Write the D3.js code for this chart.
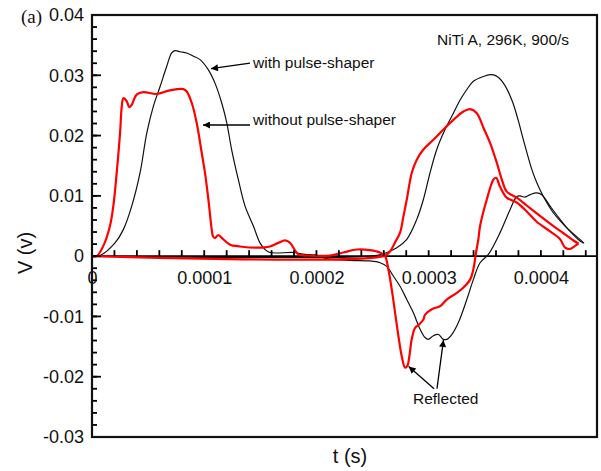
<!DOCTYPE html>
<html><head><meta charset="utf-8">
<script src="https://cdn.jsdelivr.net/npm/d3@7"></script>
<style>
body{margin:0;background:#fff;}
svg{display:block;font-family:"Liberation Sans",Arial,sans-serif;}
</style></head>
<body>
<svg id="c" width="601" height="471"></svg>
<script>
// ---- data (t in seconds, V in volts) ----
const xTicks = [0, 0.0001, 0.0002, 0.0003, 0.0004];
const yTicks = [-0.03, -0.02, -0.01, 0, 0.01, 0.02, 0.03, 0.04];
const xMinorTicks = [0, 2e-5, 4e-5, 6e-5, 8e-5, 1e-4, 1.2e-4, 1.4e-4, 1.6e-4, 1.8e-4, 2e-4, 2.2e-4, 2.4e-4,
  2.6e-4, 2.8e-4, 3e-4, 3.2e-4, 3.4e-4, 3.6e-4, 3.8e-4, 4e-4, 4.2e-4, 4.4e-4];
const yMinorTicks = [-0.03, -0.028, -0.026, -0.024, -0.022, -0.02, -0.018, -0.016, -0.014, -0.012, -0.01,
  -0.008, -0.006, -0.004, -0.002, 0, 0.002, 0.004, 0.006, 0.008, 0.01, 0.012, 0.014, 0.016, 0.018, 0.02,
  0.022, 0.024, 0.026, 0.028, 0.03, 0.032, 0.034, 0.036, 0.038, 0.04];

// with pulse-shaper: incident bar (incident + reflected)
const blackIncident = [
 [0,0],[7.1e-6,0.0001],[20.5e-6,0.0022],[27.9e-6,0.0044],[35.4e-6,0.0083],[42.8e-6,0.0138],
 [48.8e-6,0.0204],[54.6e-6,0.0248],[60.6e-6,0.0281],[66.6e-6,0.0315],[71.0e-6,0.0337],[74.0e-6,0.0341],
 [78.4e-6,0.0339],[84.4e-6,0.0337],[90.0e-6,0.0332],[96.3e-6,0.0326],[103.7e-6,0.0309],[109.6e-6,0.0287],
 [115.6e-6,0.0254],[120.1e-6,0.0221],[124.5e-6,0.0176],[130.4e-6,0.0127],[136.4e-6,0.0083],[143.8e-6,0.0050],
 [149.7e-6,0.0022],[154.2e-6,0.0011],[158.6e-6,0.0006],[179.4e-6,0.0006],[189.8e-6,0.0003],[198.8e-6,0.0002],
 [209.2e-6,-0.0004],[229.9e-6,-0.0007],[247.8e-6,-0.0008],[256.7e-6,-0.0011],[262.7e-6,-0.0017],[268.5e-6,-0.0033],
 [274.5e-6,-0.0050],[280.5e-6,-0.0072],[286.4e-6,-0.0094],[292.3e-6,-0.0121],[296.8e-6,-0.0135],[299.7e-6,-0.0138],
 [304.2e-6,-0.0132],[308.7e-6,-0.0130],[313.1e-6,-0.0138],[316.1e-6,-0.0138],[320.6e-6,-0.0130],[326.5e-6,-0.0110],
 [334.0e-6,-0.0072],[339.8e-6,-0.0039],[345.8e-6,-0.0011],[353.2e-6,0.0003],[363.6e-6,0.0039],[372.5e-6,0.0077],
 [378.5e-6,0.0099],[381.5e-6,0.0100],[385.9e-6,0.0098],[390.4e-6,0.0102],[396.3e-6,0.0105],[400.8e-6,0.0102],
 [408.2e-6,0.0083],[417.1e-6,0.0061],[426.0e-6,0.0041],[434.9e-6,0.0025],[437.9e-6,0.0022]
];
// with pulse-shaper: transmitted bar
const blackTransmitted = [
 [0,0],[247.8e-6,0],[259.6e-6,0.0004],[271.6e-6,0.0014],[280.5e-6,0.0028],[289.4e-6,0.0061],[295.3e-6,0.0094],
 [301.2e-6,0.0138],[307.2e-6,0.0177],[314.6e-6,0.0210],[322.0e-6,0.0237],[328.0e-6,0.0259],[333.9e-6,0.0276],
 [339.8e-6,0.0290],[348.8e-6,0.0298],[354.7e-6,0.0301],[360.1e-6,0.0299],[366.6e-6,0.0287],[374.1e-6,0.0259],
 [379.7e-6,0.0226],[384.4e-6,0.0193],[391.9e-6,0.0144],[396.3e-6,0.0122],[402.2e-6,0.0099],[411.1e-6,0.0072],
 [423.1e-6,0.0047],[436.5e-6,0.0025],[438.5e-6,0.0021]
];
// without pulse-shaper: incident bar (incident + reflected)
const redIncident = [
 [0,0],[4.2e-6,0],[10.1e-6,0.0017],[16.0e-6,0.0050],[19.0e-6,0.0083],[22.0e-6,0.0138],[25.0e-6,0.0204],
 [26.5e-6,0.0248],[27.9e-6,0.0262],[30.9e-6,0.0257],[33.2e-6,0.0247],[35.4e-6,0.0251],[39.8e-6,0.0268],
 [45.7e-6,0.0272],[57.7e-6,0.0269],[69.5e-6,0.0275],[81.4e-6,0.0277],[84.4e-6,0.0273],[88.9e-6,0.0254],
 [93.3e-6,0.0221],[97.8e-6,0.0171],[100.7e-6,0.0138],[103.7e-6,0.0094],[106.7e-6,0.0044],[107.8e-6,0.0033],
 [109.6e-6,0.0030],[112.6e-6,0.0035],[117.0e-6,0.0028],[123.0e-6,0.0019],[131.9e-6,0.0016],[146.8e-6,0.0014],
 [158.6e-6,0.0016],[166.0e-6,0.0022],[172.0e-6,0.0026],[176.5e-6,0.0022],[183.9e-6,0.0003],[194.3e-6,0.0001],
 [212.1e-6,0.0001],[223.9e-6,0.0006],[235.9e-6,0.0011],[247.8e-6,0.0010],[256.7e-6,0.0006],[261.1e-6,0],
 [264.1e-6,-0.0022],[267.1e-6,-0.0055],[270.1e-6,-0.0094],[273.0e-6,-0.0132],[276.0e-6,-0.0166],[279.0e-6,-0.0185],
 [281.0e-6,-0.0182],[282.8e-6,-0.0166],[284.9e-6,-0.0138],[287.9e-6,-0.0119],[291.7e-6,-0.0113],[295.3e-6,-0.0105],
 [296.8e-6,-0.0097],[302.8e-6,-0.0088],[310.2e-6,-0.0083],[316.1e-6,-0.0072],[325.1e-6,-0.0061],[331.0e-6,-0.0052],
 [336.9e-6,-0.0039],[339.8e-6,-0.0022],[342.2e-6,0.0006],[344.3e-6,0.0028],[345.8e-6,0.0050],[351.8e-6,0.0094],
 [357.7e-6,0.0127],[360.1e-6,0.0130],[363.6e-6,0.0115],[369.6e-6,0.0097],[378.5e-6,0.0089],[387.4e-6,0.0074],
 [396.3e-6,0.0057],[408.2e-6,0.0041],[417.1e-6,0.0028],[421.6e-6,0.0014],[426.0e-6,0.0012],[430.5e-6,0.0017],
 [433.5e-6,0.0021]
];
// without pulse-shaper: transmitted bar
const redTransmitted = [
 [0,0],[259.4e-6,0],[265.6e-6,0.0008],[270.1e-6,0.0023],[274.5e-6,0.0039],[277.5e-6,0.0066],[280.5e-6,0.0094],
 [284.9e-6,0.0138],[289.4e-6,0.0160],[295.3e-6,0.0177],[304.2e-6,0.0193],[313.1e-6,0.0210],[322.0e-6,0.0226],
 [330.9e-6,0.0240],[336.9e-6,0.0244],[342.9e-6,0.0237],[348.8e-6,0.0213],[354.7e-6,0.0188],[360.7e-6,0.0155],
 [365.2e-6,0.0127],[369.6e-6,0.0107],[378.5e-6,0.0097],[387.4e-6,0.0084],[396.3e-6,0.0071],[408.2e-6,0.0054],
 [420.1e-6,0.0038],[429.0e-6,0.0026],[433.5e-6,0.0021]
];

// annotation arrows in data coordinates: [tStart, vStart, tTip, vTip]
const arrows = [
 [1.408e-4, 0.0320, 1.060e-4, 0.0311],
 [1.408e-4, 0.02175, 0.989e-4, 0.02175],
 [3.048e-4, -0.0220, 2.822e-4, -0.0183],
 [3.074e-4, -0.0220, 3.132e-4, -0.0139]
];

// ---- chart ----
const svg = d3.select("#c");
const L = 92, R = 597, T = 15, B = 437;
const xS = d3.scaleLinear().domain([0, 0.00045]).range([L, R]);
const yS = d3.scaleLinear().domain([-0.03, 0.04]).range([B, T]);
const fmt = d => String(+d.toFixed(4));

// zero line (x axis domain)
svg.append("line").attr("x1", xS(0)).attr("x2", xS(0.00045)).attr("y1", yS(0)).attr("y2", yS(0))
  .attr("stroke", "#000").attr("stroke-width", 1.6);

// curves
const lineGen = d3.line().x(d => xS(d[0])).y(d => yS(d[1])).curve(d3.curveCatmullRom.alpha(0.5));
[blackIncident, blackTransmitted].forEach(s =>
  svg.append("path").datum(s).attr("d", lineGen).attr("fill", "none").attr("stroke", "#111").attr("stroke-width", 1.2));
[redIncident, redTransmitted].forEach(s =>
  svg.append("path").datum(s).attr("d", lineGen).attr("fill", "none").attr("stroke", "#ff0000").attr("stroke-width", 2.2)
    .attr("stroke-linejoin", "round"));

// y ticks pointing inward (right)
svg.selectAll(".ymin").data(yMinorTicks).join("line").attr("class", "ymin")
  .attr("x1", L).attr("x2", L + 5).attr("y1", d => yS(d)).attr("y2", d => yS(d))
  .attr("stroke", "#000").attr("stroke-width", 1.8);
svg.selectAll(".ymaj").data(yTicks).join("line").attr("class", "ymaj")
  .attr("x1", L).attr("x2", L + 9).attr("y1", d => yS(d)).attr("y2", d => yS(d))
  .attr("stroke", "#000").attr("stroke-width", 1.8);
// x ticks upward on the zero line
svg.selectAll(".xmin").data(xMinorTicks).join("line").attr("class", "xmin")
  .attr("x1", d => xS(d)).attr("x2", d => xS(d)).attr("y1", yS(0)).attr("y2", yS(0) - 6)
  .attr("stroke", "#000").attr("stroke-width", 1.8);

// y labels
svg.append("g").attr("transform", `translate(${L},0)`)
  .call(d3.axisLeft(yS).tickValues(yTicks).tickSize(0).tickPadding(8).tickFormat(fmt))
  .call(g => g.select(".domain").remove())
  .call(g => g.selectAll("text").attr("font-size", 18).attr("fill", "#111")
     .attr("font-family", "Liberation Sans, Arial, sans-serif"));
// x labels
svg.append("g").attr("transform", `translate(0,${yS(0)})`)
  .call(d3.axisBottom(xS).tickValues(xTicks).tickSize(0).tickPadding(15).tickFormat(fmt))
  .call(g => g.select(".domain").remove())
  .call(g => g.selectAll("text").attr("font-size", 18).attr("fill", "#111")
     .attr("font-family", "Liberation Sans, Arial, sans-serif"));

// frame
svg.append("rect").attr("x", L).attr("y", T).attr("width", R - L).attr("height", B - T)
  .attr("fill", "none").attr("stroke", "#111").attr("stroke-width", 2.2);

// arrows
svg.append("defs").append("marker").attr("id", "ah").attr("viewBox", "0 0 10 10")
  .attr("refX", 10).attr("refY", 5).attr("markerWidth", 9).attr("markerHeight", 7)
  .attr("markerUnits", "userSpaceOnUse").attr("orient", "auto")
  .append("path").attr("d", "M0,0 L10,5 L0,10 z").attr("fill", "#000");
svg.selectAll(".arr").data(arrows).join("line").attr("class", "arr")
  .attr("x1", d => xS(d[0])).attr("y1", d => yS(d[1])).attr("x2", d => xS(d[2])).attr("y2", d => yS(d[3]))
  .attr("stroke", "#000").attr("stroke-width", 1.3).attr("marker-end", "url(#ah)");

// texts
const ann = svg.append("g").attr("font-size", 15.5).attr("fill", "#111");
ann.append("text").attr("x", 437).attr("y", 45).text("NiTi A, 296K, 900/s");
ann.append("text").attr("x", 253).attr("y", 67.5).text("with pulse-shaper");
ann.append("text").attr("x", 253).attr("y", 124.5).text("without pulse-shaper");
ann.append("text").attr("x", 413).attr("y", 403.5).text("Reflected");

svg.append("text").attr("x", 21).attr("y", 23).attr("font-family", "Liberation Serif, Times New Roman, serif")
  .attr("font-size", 19).attr("fill", "#111").text("(a)");
svg.append("text").attr("transform", "translate(32,253) rotate(-90)").attr("text-anchor", "middle")
  .attr("font-size", 20).attr("fill", "#111").text("V (v)");
svg.append("text").attr("x", 350).attr("y", 463).attr("text-anchor", "middle")
  .attr("font-size", 20).attr("fill", "#111").text("t (s)");
</script>
</body></html>
